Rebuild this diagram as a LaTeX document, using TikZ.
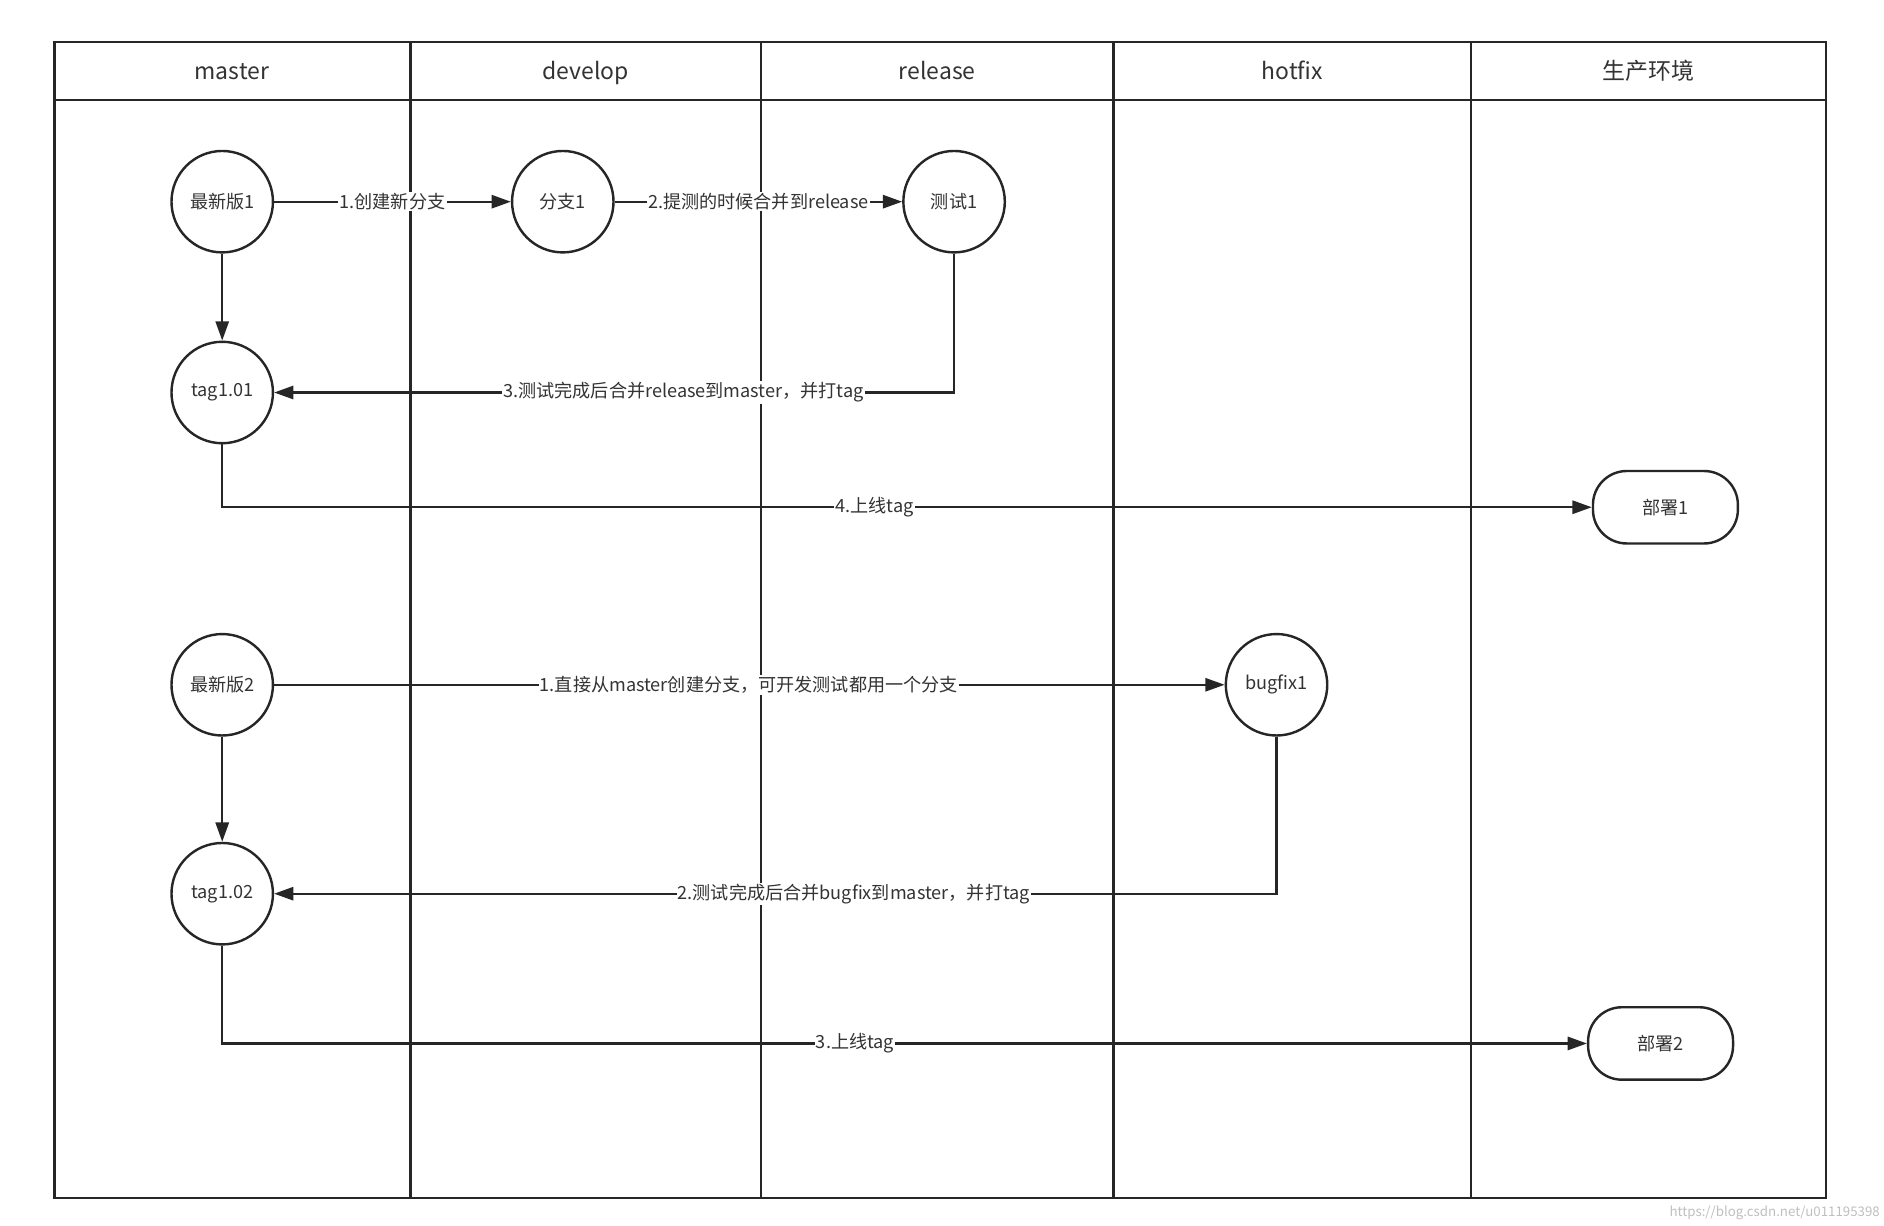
\documentclass[tikz,border=0pt]{standalone}
\usepackage{fontspec}
\setmainfont{Noto Sans CJK SC}
\usetikzlibrary{arrows.meta}
\begin{document}
\begin{tikzpicture}[x=1pt,y=-1pt,
  frame/.style={line width=2pt,draw=black!85},
  circ/.style={circle,draw=black!85,line width=2pt,minimum size=84pt,inner sep=0pt,font=\fontsize{15}{15}\selectfont,text=black!80},
  dep/.style={rounded corners=28pt,draw=black!85,line width=2pt,minimum width=120pt,minimum height=60pt,font=\fontsize{15}{15}\selectfont,text=black!80},
  hd/.style={font=\fontsize{19}{19}\selectfont,text=black!80,anchor=base},
  con/.style={line width=1.8pt,draw=black!85,-{Triangle[length=16pt,width=11pt]}},
  lab/.style={fill=white,inner sep=1pt,font=\fontsize{15}{15}\selectfont,text=black!80}]
\useasboundingbox (0,0) rectangle (1560,1015);
\fill[white] (0,0) rectangle (1560,1015);
\draw[frame] (45,35) rectangle (1512,992);
\draw[frame] (45,83) -- (1512,83);
\foreach \x in {340,630,922,1218} \draw[frame] (\x,35) -- (\x,992);
\node[hd] (h1) at (192,66) {master};
\node[hd] (h2) at (485,66) {develop};
\node[hd] (h3) at (776,66) {release};
\node[hd] (h4) at (1070,66) {hotfix};
\node[hd] (h5) at (1365,66) {生产环境};
\node[circ] (n1) at (184,167) {最新版1};
\node[circ] (b1) at (466,167) {分支1};
\node[circ] (t1) at (790,167) {测试1};
\node[circ] (g1) at (184,325) {tag1.01};
\node[dep] (d1) at (1379,420) {部署1};
\node[circ] (n2) at (184,567) {最新版2};
\node[circ] (f1) at (1057,567) {bugfix1};
\node[circ] (g2) at (184,740) {tag1.02};
\node[dep] (d2) at (1375,864) {部署2};
\draw[con] (n1) -- (b1);
\draw[con] (b1) -- (t1);
\draw[con] (n1) -- (g1);
\draw[con] (t1.south) |- (g1);
\draw[con] (g1.south) |- (d1);
\draw[con] (n2) -- (f1);
\draw[con] (n2) -- (g2);
\draw[con] (f1.south) |- (g2);
\draw[con] (g2.south) |- (d2);
\node[lab] (l1) at (325,167) {1.创建新分支};
\node[lab] (l2) at (628,167) {2.提测的时候合并到release};
\node[lab] (l3) at (566,325) {3.测试完成后合并release到master，并打tag};
\node[lab] (l4) at (724,420) {4.上线tag};
\node[lab] (l5) at (620,567) {1.直接从master创建分支，可开发测试都用一个分支};
\node[lab] (l6) at (707,740) {2.测试完成后合并bugfix到master，并打tag};
\node[lab] (l7) at (708,864) {3.上线tag};
\node[text=black!25,font=\fontsize{11}{11}\selectfont,anchor=east] (wm) at (1560,1004) {https://blog.csdn.net/u011195398};
\end{tikzpicture}
\end{document}
